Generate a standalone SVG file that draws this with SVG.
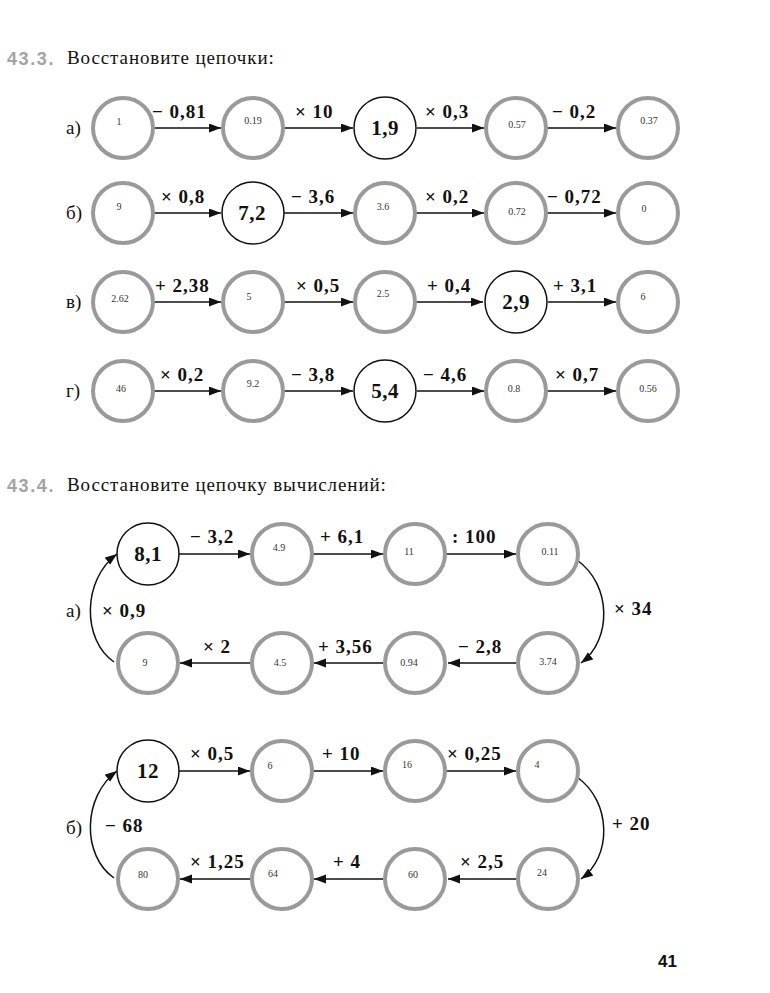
<svg xmlns="http://www.w3.org/2000/svg" width="770" height="993" viewBox="0 0 770 993">
<style>
.g{fill:#fff;stroke:#9a9a9a;stroke-width:4}
.b{fill:#fff;stroke:#111;stroke-width:1.5}
.sm{font-family:"Liberation Serif",serif;font-size:10px;fill:#333;text-anchor:middle}
.big{font-family:"Liberation Serif",serif;font-size:21px;font-weight:bold;fill:#111;text-anchor:middle;letter-spacing:0.5px}
.lbl{font-family:"Liberation Serif",serif;font-size:19px;font-weight:bold;fill:#111;letter-spacing:1px}
.row{font-family:"Liberation Serif",serif;font-size:19px;fill:#111}
.hn{font-family:"Liberation Sans",sans-serif;font-size:18px;font-weight:bold;fill:#a3a3a3;letter-spacing:1.6px}
.ht{font-family:"Liberation Serif",serif;font-size:19px;fill:#111;letter-spacing:0.9px}
.ar{fill:none;stroke:#111;stroke-width:1.5}
</style>
<defs>
<marker id="ah" markerUnits="userSpaceOnUse" markerWidth="13" markerHeight="10" refX="12" refY="4.5" orient="auto">
<path d="M0,0 L12,4.5 L0,9 z" fill="#111"/>
</marker>
</defs>
<rect width="770" height="993" fill="#fff"/>

<!-- headings -->
<text class="hn" x="7" y="65">43.3.</text>
<text class="ht" x="67" y="64">Восстановите цепочки:</text>
<text class="row" x="66" y="134">а)</text>
<text class="row" x="66" y="219">б)</text>
<text class="row" x="66" y="308">в)</text>
<text class="row" x="66" y="397">г)</text>

<text class="hn" x="7" y="492">43.4.</text>
<text class="ht" x="67" y="491">Восстановите цепочку вычислений:</text>
<text class="row" x="66" y="617">а)</text>
<text class="row" x="66" y="834">б)</text>

<!-- connectors -->
<g id="connectors" class="ar" marker-end="url(#ah)">
<line x1="154" y1="128" x2="221" y2="128"/>
<line x1="284" y1="128" x2="353" y2="128"/>
<line x1="417" y1="128" x2="484" y2="128"/>
<line x1="547" y1="128" x2="616" y2="128"/>
<line x1="154" y1="213" x2="221" y2="213"/>
<line x1="284" y1="213" x2="353" y2="213"/>
<line x1="416" y1="213" x2="484" y2="213"/>
<line x1="547" y1="213" x2="616" y2="213"/>
<line x1="154" y1="302" x2="221" y2="302"/>
<line x1="284" y1="302" x2="353" y2="302"/>
<line x1="416" y1="302" x2="483" y2="302"/>
<line x1="548" y1="302" x2="616" y2="302"/>
<line x1="154" y1="391" x2="221" y2="391"/>
<line x1="284" y1="391" x2="353" y2="391"/>
<line x1="417" y1="391" x2="484" y2="391"/>
<line x1="547" y1="391" x2="616" y2="391"/>

<line x1="179" y1="554" x2="250" y2="554"/>
<line x1="313" y1="554" x2="383" y2="554"/>
<line x1="447" y1="554" x2="516" y2="554"/>
<path d="M577 560 C612 585 612 640 581 663"/>
<line x1="516" y1="663" x2="448" y2="663"/>
<line x1="383" y1="663" x2="314" y2="663"/>
<line x1="250" y1="663" x2="180" y2="663"/>
<path d="M114 662 C82 640 82 580 117 554"/>

<line x1="179" y1="771" x2="250" y2="771"/>
<line x1="313" y1="771" x2="383" y2="771"/>
<line x1="447" y1="771" x2="516" y2="771"/>
<path d="M577 777 C612 802 612 857 581 879"/>
<line x1="516" y1="879" x2="448" y2="879"/>
<line x1="383" y1="879" x2="314" y2="879"/>
<line x1="250" y1="879" x2="180" y2="879"/>
<path d="M114 878 C82 856 82 797 117 771"/>
</g>

<!-- connector labels -->
<g id="labels" class="lbl">
<text x="152" y="118">− 0,81</text>
<text x="295" y="118">× 10</text>
<text x="425" y="118">× 0,3</text>
<text x="552" y="118">− 0,2</text>
<text x="161" y="203">× 0,8</text>
<text x="291" y="203">− 3,6</text>
<text x="425" y="203">× 0,2</text>
<text x="547" y="203">− 0,72</text>
<text x="155" y="292">+ 2,38</text>
<text x="296" y="292">× 0,5</text>
<text x="427" y="292">+ 0,4</text>
<text x="553" y="292">+ 3,1</text>
<text x="160" y="381">× 0,2</text>
<text x="291" y="381">− 3,8</text>
<text x="423" y="381">− 4,6</text>
<text x="555" y="381">× 0,7</text>

<text x="190" y="543">− 3,2</text>
<text x="320" y="543">+ 6,1</text>
<text x="452" y="543">: 100</text>
<text x="614" y="615">× 34</text>
<text x="458" y="653">− 2,8</text>
<text x="318" y="653">+ 3,56</text>
<text x="203" y="653">× 2</text>
<text x="102" y="617">× 0,9</text>

<text x="190" y="760">× 0,5</text>
<text x="322" y="760">+ 10</text>
<text x="447" y="760">× 0,25</text>
<text x="612" y="830">+ 20</text>
<text x="460" y="868">× 2,5</text>
<text x="333" y="868">+ 4</text>
<text x="190" y="868">× 1,25</text>
<text x="105" y="832">− 68</text>
</g>

<!-- 43.3 a -->
<g id="a1"><circle class="g" cx="123" cy="128" r="30"/><text class="sm" x="119" y="125">1</text></g>
<g id="a2"><circle class="g" cx="253" cy="128" r="30"/><text class="sm" x="253" y="124">0.19</text></g>
<g id="a3"><circle class="b" cx="385" cy="128" r="31"/><text class="big" x="385" y="135">1,9</text></g>
<g id="a4"><circle class="g" cx="516" cy="128" r="30"/><text class="sm" x="517" y="128">0.57</text></g>
<g id="a5"><circle class="g" cx="648" cy="128" r="30"/><text class="sm" x="649" y="124">0.37</text></g>
<!-- b -->
<g id="b1"><circle class="g" cx="123" cy="213" r="30"/><text class="sm" x="119" y="210">9</text></g>
<g id="b2"><circle class="b" cx="253" cy="213" r="31"/><text class="big" x="252" y="220">7,2</text></g>
<g id="b3"><circle class="g" cx="385" cy="213" r="30"/><text class="sm" x="383" y="210">3.6</text></g>
<g id="b4"><circle class="g" cx="516" cy="213" r="30"/><text class="sm" x="517" y="215">0.72</text></g>
<g id="b5"><circle class="g" cx="648" cy="213" r="30"/><text class="sm" x="644" y="212">0</text></g>
<!-- c -->
<g id="c1"><circle class="g" cx="123" cy="302" r="30"/><text class="sm" x="120" y="302">2.62</text></g>
<g id="c2"><circle class="g" cx="253" cy="302" r="30"/><text class="sm" x="249" y="300">5</text></g>
<g id="c3"><circle class="g" cx="385" cy="302" r="30"/><text class="sm" x="383" y="297">2.5</text></g>
<g id="c4"><circle class="b" cx="516" cy="302" r="31"/><text class="big" x="516" y="309">2,9</text></g>
<g id="c5"><circle class="g" cx="648" cy="302" r="30"/><text class="sm" x="643" y="300">6</text></g>
<!-- d -->
<g id="d1"><circle class="g" cx="123" cy="391" r="30"/><text class="sm" x="121" y="392">46</text></g>
<g id="d2"><circle class="g" cx="253" cy="391" r="30"/><text class="sm" x="253" y="387">9.2</text></g>
<g id="d3"><circle class="b" cx="385" cy="391" r="31"/><text class="big" x="385" y="398">5,4</text></g>
<g id="d4"><circle class="g" cx="516" cy="391" r="30"/><text class="sm" x="514" y="392">0.8</text></g>
<g id="d5"><circle class="g" cx="648" cy="391" r="30"/><text class="sm" x="648" y="392">0.56</text></g>

<!-- 43.4 a -->
<g id="e1"><circle class="b" cx="148" cy="554" r="31"/><text class="big" x="148" y="561">8,1</text></g>
<g id="e2"><circle class="g" cx="282" cy="554" r="30"/><text class="sm" x="279" y="551">4.9</text></g>
<g id="e3"><circle class="g" cx="415" cy="554" r="30"/><text class="sm" x="409" y="555">11</text></g>
<g id="e4"><circle class="g" cx="548" cy="554" r="30"/><text class="sm" x="550" y="555">0.11</text></g>
<g id="e5"><circle class="g" cx="548" cy="663" r="30"/><text class="sm" x="548" y="665">3.74</text></g>
<g id="e6"><circle class="g" cx="415" cy="663" r="30"/><text class="sm" x="409" y="666">0.94</text></g>
<g id="e7"><circle class="g" cx="282" cy="663" r="30"/><text class="sm" x="280" y="666">4.5</text></g>
<g id="e8"><circle class="g" cx="148" cy="663" r="30"/><text class="sm" x="145" y="666">9</text></g>

<!-- 43.4 b -->
<g id="f1"><circle class="b" cx="148" cy="771" r="31"/><text class="big" x="148" y="778">12</text></g>
<g id="f2"><circle class="g" cx="282" cy="771" r="30"/><text class="sm" x="270" y="769">6</text></g>
<g id="f3"><circle class="g" cx="415" cy="771" r="30"/><text class="sm" x="407" y="768">16</text></g>
<g id="f4"><circle class="g" cx="548" cy="771" r="30"/><text class="sm" x="537" y="768">4</text></g>
<g id="f5"><circle class="g" cx="548" cy="879" r="30"/><text class="sm" x="542" y="876">24</text></g>
<g id="f6"><circle class="g" cx="415" cy="879" r="30"/><text class="sm" x="413" y="878">60</text></g>
<g id="f7"><circle class="g" cx="282" cy="879" r="30"/><text class="sm" x="273" y="877">64</text></g>
<g id="f8"><circle class="g" cx="148" cy="879" r="30"/><text class="sm" x="143" y="878">80</text></g>

<text x="658" y="967" font-family="'Liberation Sans',sans-serif" font-size="17" font-weight="bold" fill="#111">41</text>
</svg>
